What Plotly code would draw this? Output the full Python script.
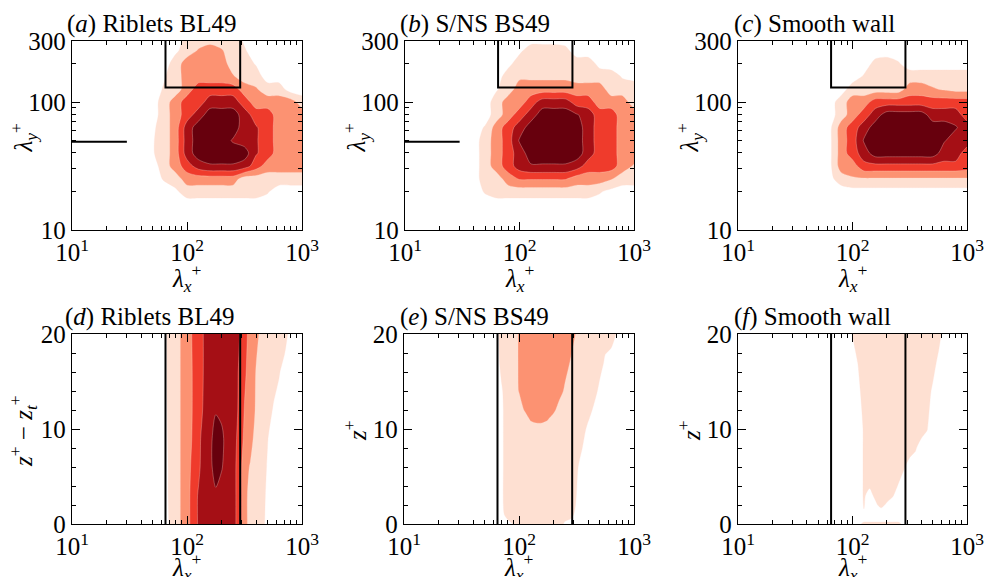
import plotly.graph_objects as go

W, H = 989, 577
FONT = "Liberation Serif, Times New Roman, serif"
FS = 25

# Filled-contour band colours (levels 1..5)
REDS = ["#fee0d2", "#fc9272", "#ef3b2c", "#a50f15", "#67000d"]

# ---------------- top row: spectra in (lambda_x+, lambda_y+) -------------
TOP_LOG_LX = [1.0, 1.1, 1.2, 1.3, 1.4, 1.5, 1.6, 1.7, 1.8, 1.9, 2.0,
              2.1, 2.2, 2.3, 2.4, 2.5, 2.6, 2.7, 2.8, 2.9, 3.0]
TOP_LOG_LY = [1.0, 1.1, 1.2, 1.3, 1.4, 1.5, 1.6, 1.7, 1.8, 1.9, 2.0,
              2.1, 2.2, 2.3, 2.4, 2.5]

# band index, columns lambda_x 10^1.7 .. 10^3 (left part is 0)
A_ROWS = [
    [0]*14, [0]*14, [0]*14,
    [0, 0, 0.3, 1, 1, 1, 1, 1, 1, 1, 0.6, 0, 0, 0],
    [0, 0.6, 1, 2, 2, 2, 2, 2, 1, 1, 1, 1, 1, 1],
    [0, 1, 2, 3, 4, 4.4, 4.4, 4.4, 4, 3, 2, 2, 2, 2],
    [0.4, 1, 2, 4, 5, 5, 5, 5, 5, 3.6, 3, 2, 2, 2],
    [0.4, 1, 2, 4, 5, 5, 5, 4.4, 4, 3.6, 3, 2, 2, 2],
    [0.3, 1, 2, 4, 5, 5, 5, 5, 4, 3.6, 3, 2, 2, 2],
    [0, 1, 2, 3, 4, 5, 5, 5, 4, 3, 3, 2, 2, 2],
    [0, 1, 2, 3, 3, 4, 4, 4, 3, 2, 2, 2, 2, 1],
    [0, 0.6, 1, 2, 3, 3, 3, 3, 2, 1.6, 1, 1, 0, 0],
    [0, 0.4, 1, 2, 2, 2, 2, 1.6, 1, 1, 0, 0, 0, 0],
    [0, 0, 1, 2, 2, 2, 2, 1, 1, 0.4, 0, 0, 0, 0],
    [0, 0, 0.3, 1, 1.6, 2, 1.6, 1, 0.6, 0, 0, 0, 0, 0],
    [0, 0, 0, 0.8, 1, 1, 1, 1, 0.3, 0, 0, 0, 0, 0],
]
B_ROWS = [
    [0]*14, [0]*14, [0]*14,
    [0.6, 1, 1, 1, 1, 1, 1, 1, 1, 1, 0.6, 0.2, 0, 0],
    [1, 1, 2, 2.6, 2.6, 2.6, 2.6, 2.6, 2, 2, 2, 1.6, 1, 1],
    [1, 2, 3, 4, 4.4, 4.4, 4.4, 4.4, 4, 3, 3, 3, 2, 1.4],
    [1, 2, 3, 4, 5, 5, 5, 5, 5, 4, 3, 3, 2, 2],
    [1, 2, 3, 4.6, 5, 5, 5, 5, 5, 4, 3, 3, 2, 2],
    [0.6, 2, 3, 4, 5, 5, 5, 5, 5, 4, 3, 3, 2, 2],
    [0, 1, 2, 3, 4, 5, 5, 5, 4.6, 4, 3, 3, 2, 2],
    [0, 1, 2, 2, 3, 4, 4, 4, 3, 3, 2, 2, 2, 1],
    [0, 0.4, 1, 2, 2, 2, 2, 2, 2, 2, 2, 1, 1, 1],
    [0, 0, 1, 1.3, 1.3, 1.3, 1.3, 1.3, 1, 1, 1, 1, 0.4, 0.2],
    [0, 0, 0.2, 1, 1, 1, 1, 1, 1, 1, 0.2, 0, 0, 0],
    [0, 0, 0, 0.3, 1, 1, 1, 0.8, 0, 0, 0, 0, 0, 0],
    [0]*14,
]
C_ROWS = [
    [0]*14, [0]*14, [0]*14,
    [0, 0, 0, 0.1, 0.1, 0.1, 0.1, 0.1, 0.1, 0.1, 0.1, 0.1, 0.1, 0.1],
    [0, 0.2, 1, 1.4, 1.4, 1.4, 1.4, 1.4, 1.4, 1.4, 1.4, 1.4, 1.4, 1.4],
    [0, 0.2, 2, 2, 3.2, 3.2, 3.2, 3.2, 3.2, 3.2, 3.2, 3.2, 3.2, 3],
    [0, 0.2, 2, 3, 4, 5, 5, 5, 5, 5, 5, 4, 4, 3],
    [0, 0.2, 2, 3, 4.6, 5, 5, 5, 5, 5, 5, 4.6, 4, 4],
    [0, 0.2, 2, 3, 4, 5, 5, 5, 5, 5, 5, 5, 4.6, 4],
    [0, 0, 1, 2, 3, 4, 5, 5, 5, 5, 4, 4, 4, 3],
    [0, 0, 1, 2, 2, 3, 3, 3, 3, 3, 3, 3, 3, 3],
    [0, 0, 0, 1, 1, 1, 1, 1, 2, 2, 1.6, 1.4, 1.2, 1.2],
    [0, 0, 0, 0, 0.6, 1, 1, 1, 1, 1, 1, 1, 1, 1],
    [0, 0, 0, 0, 0, 0.8, 1, 0.6, 0, 0, 0, 0, 0, 0],
    [0]*14, [0]*14,
]

# ---------------- bottom row: (lambda_x+, z+) ------------------------------
BOT_LOG_LX = [1.0, 1.75, 1.80, 1.85, 1.90, 1.95, 2.00, 2.05, 2.10, 2.15,
              2.20, 2.25, 2.30, 2.35, 2.40, 2.45, 2.50, 2.55, 2.60, 2.65,
              2.70, 2.75, 2.80, 2.85, 2.90, 2.95, 3.00]

D_Z = [0, 3, 6, 9, 12, 16, 20]
D_ROWS = [
    [0, 0, 0, 0.6, 1, 1.6, 2, 3, 3.6, 4, 4, 4, 4, 4, 4, 3, 2, 1, 1, 1, 0, 0, 0, 0, 0, 0, 0],
    [0, 0, 0, 0.7, 1, 1.6, 2, 3, 3.6, 4, 4, 4.3, 4, 4, 4, 3, 2, 1, 1, 1, 0.2, 0, 0, 0, 0, 0, 0],
    [0, 0, 0, 0.7, 1, 1.6, 2, 2.8, 3.3, 4, 4.2, 5, 4.6, 4, 4, 3, 2, 1.4, 1, 1, 0.4, 0, 0, 0, 0, 0, 0],
    [0, 0, 0, 0.8, 1, 1.6, 2, 2.6, 3.2, 4, 4.2, 5, 4.8, 4, 4, 3.2, 2.3, 2, 1, 1, 0.55, 0, 0, 0, 0, 0, 0],
    [0, 0, 0, 0.9, 1, 1.6, 2, 2.55, 3, 3.7, 4, 4.4, 4.2, 4, 4, 3.4, 2.45, 2, 1.4, 1, 1, 0.4, 0, 0, 0, 0, 0],
    [0, 0, 0, 1, 1, 1.6, 2, 2.55, 3, 3.6, 4, 4, 4, 4, 4, 3.45, 2.7, 2, 1.45, 1, 1, 1, 0.6, 0, 0, 0, 0],
    [0, 0, 0, 1, 1, 1.6, 2, 2.6, 3, 3.6, 4, 4, 4, 4, 4, 3.6, 3, 2, 2, 1, 1, 1, 1, 1, 0, 0, 0],
]

E_Z = [0, 1, 2, 6, 10, 11, 12, 14, 17, 20]
E_ROWS = [
    [0, 0, 0, 0, 0, 0.55, 1, 1, 1, 1, 1, 1, 1, 1, 0.3, 0, 0, 0, 0, 0, 0, 0, 0, 0, 0, 0, 0],
    [0, 0, 0, 0.1, 1, 1, 1, 1, 1, 1, 1, 1, 1, 1, 1, 0.9, 0.1, 0, 0, 0, 0, 0, 0, 0, 0, 0, 0],
    [0, 0, 0, 0.3, 1, 1, 1, 1, 1, 1, 1, 1, 1, 1, 1, 1, 0.4, 0, 0, 0, 0, 0, 0, 0, 0, 0, 0],
    [0, 0, 0, 0.3, 1, 1, 1, 1, 1, 1, 1, 1, 1, 1, 1, 1, 0.7, 0, 0, 0, 0, 0, 0, 0, 0, 0, 0],
    [0, 0, 0, 0.3, 1, 1, 1, 1, 1, 1, 1, 1, 1, 1, 1, 1, 1, 1, 0.2, 0, 0, 0, 0, 0, 0, 0, 0],
    [0, 0, 0, 0.3, 1, 1, 1, 1, 1.6, 1.8, 1.8, 1.55, 1, 1, 1, 1, 1, 1, 0.6, 0, 0, 0, 0, 0, 0, 0, 0],
    [0, 0, 0, 0.3, 1, 1, 1, 1.6, 2, 2, 2, 2, 1.8, 1, 1, 1, 1, 1, 1, 0.3, 0, 0, 0, 0, 0, 0, 0],
    [0, 0, 0, 0.4, 1, 1, 1.55, 2, 2, 2, 2, 2, 2, 2, 1.3, 1, 1, 1, 1, 1, 0.2, 0, 0, 0, 0, 0, 0],
    [0, 0, 0, 0.8, 1, 1, 1.6, 2, 2, 2, 2, 2, 2, 2, 2, 1.4, 1, 1, 1, 1, 1, 0.3, 0, 0, 0, 0, 0],
    [0, 0, 0, 1, 1, 1, 1.6, 2, 2, 2, 2, 2, 2, 2, 2, 2, 1.4, 1, 1, 1, 1, 1, 1, 0.4, 0, 0, 0],
]

F_Z = [0, 0.4, 1.2, 2, 3, 4.5, 6, 8, 10, 14, 17, 20]
F_ROWS = [
    [0, 0, 0, 0, 0, 0, 0, 0, 1, 1, 1, 1, 1, 1, 1, 0, 0, 0, 0, 0, 0, 0, 0, 0, 0, 0, 0],
    [0]*27,
    [0, 0, 0, 0, 0, 0, 0, 0, 0.45, 0, 0, 0, 0, 0, 0, 0, 0, 0, 0, 0, 0, 0, 0, 0, 0, 0, 0],
    [0, 0, 0, 0, 0, 0, 0, 0, 0.55, 0, 0.3, 0.8, 0.3, 0, 0, 0, 0, 0, 0, 0, 0, 0, 0, 0, 0, 0, 0],
    [0, 0, 0, 0, 0, 0, 0, 0, 0.6, 0.2, 0.7, 1, 1, 0.6, 0, 0, 0, 0, 0, 0, 0, 0, 0, 0, 0, 0, 0],
    [0, 0, 0, 0, 0, 0, 0, 0, 0.6, 0.8, 1, 1, 1, 1, 0.6, 0, 0, 0, 0, 0, 0, 0, 0, 0, 0, 0, 0],
    [0, 0, 0, 0, 0, 0, 0, 0, 0.6, 1, 1, 1, 1, 1, 1, 0.6, 0, 0, 0, 0, 0, 0, 0, 0, 0, 0, 0],
    [0, 0, 0, 0, 0, 0, 0, 0, 0.6, 1, 1, 1, 1, 1, 1, 1, 1, 0.6, 0, 0, 0, 0, 0, 0, 0, 0, 0],
    [0, 0, 0, 0, 0, 0, 0, 0, 0.6, 1, 1, 1, 1, 1, 1, 1, 1, 1, 1, 0.55, 0, 0, 0, 0, 0, 0, 0],
    [0, 0, 0, 0, 0, 0, 0, 0.2, 1, 1, 1, 1, 1, 1, 1, 1, 1, 1, 1, 1, 0.3, 0, 0, 0, 0, 0, 0],
    [0, 0, 0, 0, 0, 0, 0, 0.55, 1, 1, 1, 1, 1, 1, 1, 1, 1, 1, 1, 1, 1, 0.2, 0, 0, 0, 0, 0],
    [0, 0, 0, 0, 0, 0, 0.55, 1, 1, 1, 1, 1, 1, 1, 1, 1, 1, 1, 1, 1, 1, 1, 0, 0, 0, 0, 0],
]

# reference lines
BOX_X = [65, 290]          # lambda_x+ bounds of the box / vertical lines
BOX_Y = [130, 300]         # lambda_y+ bounds of the box
SPAN_X = [10, 30]          # horizontal marker at lambda_y+ = 49
SPAN_Y = 49

TITLES = ["(<i>a</i>) Riblets BL49", "(<i>b</i>) S/NS BS49", "(<i>c</i>) Smooth wall",
          "(<i>d</i>) Riblets BL49", "(<i>e</i>) S/NS BS49", "(<i>f</i>) Smooth wall"]
YTITLES = ["<i>λ</i><sub><i>y</i></sub><sup>+</sup>"] * 3 + \
          ["<i>z</i><sup>+</sup> − <i>z</i><sub><i>t</i></sub><sup>+</sup>",
           "<i>z</i><sup>+</sup>", "<i>z</i><sup>+</sup>"]
XTITLE = "<i>λ</i><sub><i>x</i></sub><sup>+</sup>"

X_TICKS = [10, 100, 1000]
X_TICKTEXT = ["10<sup>1</sup>", "10<sup>2</sup>", "10<sup>3</sup>"]
X_MINOR = [20, 30, 40, 50, 60, 70, 80, 90, 200, 300, 400, 500, 600, 700, 800, 900]
Y_TICKS_TOP = [10, 100, 300]
Y_MINOR_TOP = [20, 30, 40, 50, 60, 70, 80, 90, 200]


def pad(rows, n):
    return [[0] * (n - len(r)) + list(r) for r in rows]


top_x = [10 ** v for v in TOP_LOG_LX]
top_y = [10 ** v for v in TOP_LOG_LY]
bot_x = [10 ** v for v in BOT_LOG_LX]

panels = [
    (top_x, top_y, pad(A_ROWS, 21)),
    (top_x, top_y, pad(B_ROWS, 21)),
    (top_x, top_y, pad(C_ROWS, 21)),
    (bot_x, D_Z, D_ROWS),
    (bot_x, E_Z, E_ROWS),
    (bot_x, F_Z, F_ROWS),
]

CS = [[0.0, "#ffffff"], [0.1, "#ffffff"],
      [0.1, REDS[0]], [0.3, REDS[0]],
      [0.3, REDS[1]], [0.5, REDS[1]],
      [0.5, REDS[2]], [0.7, REDS[2]],
      [0.7, REDS[3]], [0.9, REDS[3]],
      [0.9, REDS[4]], [1.0, REDS[4]]]

# pixel layout
XPIX = [(72, 302), (405, 634), (738, 967), (72, 302), (404, 634), (738, 967)]
YPIX = [(41, 230)] * 3 + [(334, 524)] * 3
TITLE_X = [65, 398, 732, 63, 398, 732]
XTITLE_GAP = [28, 28, 28, 23, 23, 23]

fig = go.Figure()
for i, (xv, yv, z) in enumerate(panels):
    n = i + 1
    fig.add_trace(go.Contour(
        x=xv, y=yv, z=z, xaxis=f"x{n}", yaxis=f"y{n}",
        autocontour=False,
        contours=dict(start=0.5, end=4.5, size=1, coloring="fill", showlines=True),
        line=dict(width=0.6, color="rgba(255,220,210,0.5)", smoothing=0.8),
        colorscale=CS, zmin=0, zmax=5, showscale=False, hoverinfo="skip"))
    if i < 3:
        fig.add_trace(go.Scatter(
            x=[BOX_X[0], BOX_X[0], BOX_X[1], BOX_X[1]],
            y=[BOX_Y[1], BOX_Y[0], BOX_Y[0], BOX_Y[1]],
            mode="lines", line=dict(color="black", width=2),
            xaxis=f"x{n}", yaxis=f"y{n}", showlegend=False, hoverinfo="skip"))
        if i < 2:
            fig.add_trace(go.Scatter(
                x=SPAN_X, y=[SPAN_Y, SPAN_Y], mode="lines",
                line=dict(color="black", width=2),
                xaxis=f"x{n}", yaxis=f"y{n}", showlegend=False, hoverinfo="skip"))
    else:
        for xb in BOX_X:
            fig.add_trace(go.Scatter(
                x=[xb, xb], y=[0, 20], mode="lines",
                line=dict(color="black", width=2),
                xaxis=f"x{n}", yaxis=f"y{n}", showlegend=False, hoverinfo="skip"))

axis_common = dict(showline=True, linecolor="black", linewidth=1.3, mirror="allticks",
                   ticks="inside", ticklen=8, tickwidth=1.2, tickcolor="black",
                   showgrid=False, zeroline=False, automargin=False,
                   tickfont=dict(family=FONT, size=FS, color="black"))

layout = dict(width=W, height=H, margin=dict(l=0, r=0, t=0, b=0, autoexpand=False),
              paper_bgcolor="white", plot_bgcolor="white", showlegend=False,
              font=dict(family=FONT, size=FS, color="black"))
annotations = []
tfont = dict(family=FONT, size=FS, color="black")
for i in range(6):
    n = i + 1
    x0, x1 = XPIX[i]
    y0, y1 = YPIX[i]
    xa = dict(axis_common)
    xa.update(domain=[x0 / W, x1 / W], anchor=f"y{n}", type="log", range=[1, 3],
              tickmode="array", tickvals=X_TICKS, ticktext=X_TICKTEXT,
              minor=dict(tickvals=X_MINOR, ticklen=4, tickwidth=1, ticks="inside",
                         tickcolor="black"))
    ya = dict(axis_common)
    if i < 3:
        ya.update(type="log", range=[1, 2.4771], tickmode="array",
                  tickvals=Y_TICKS_TOP, ticktext=["10", "100", "300"],
                  minor=dict(tickvals=Y_MINOR_TOP, ticklen=4, tickwidth=1,
                             ticks="inside", tickcolor="black"))
    else:
        ya.update(type="linear", range=[0, 20], tickmode="array",
                  tickvals=[0, 10, 20],
                  minor=dict(dtick=2, tick0=0, ticklen=4, tickwidth=1,
                             ticks="inside", tickcolor="black"))
    ya.update(domain=[1 - y1 / H, 1 - y0 / H], anchor=f"x{n}")
    layout[f"xaxis{n}"] = xa
    layout[f"yaxis{n}"] = ya
    # panel title
    annotations.append(dict(text=TITLES[i], xref="paper", yref="paper",
                            x=TITLE_X[i] / W, y=1 - (y0 - 1) / H,
                            xanchor="left", yanchor="bottom", showarrow=False,
                            font=tfont))
    # x-axis title
    annotations.append(dict(text=XTITLE, xref="paper", yref="paper",
                            x=(x0 + x1) / 2 / W, y=1 - (y1 + XTITLE_GAP[i]) / H,
                            xanchor="center", yanchor="top", showarrow=False,
                            font=tfont))
    # y-axis title
    annotations.append(dict(text=YTITLES[i], xref="paper", yref="paper",
                            x=(x0 - 49) / W, y=1 - ((y0 + y1) / 2 + 2) / H,
                            xanchor="center", yanchor="middle", textangle=-90,
                            showarrow=False, font=tfont))
layout["annotations"] = annotations
fig.update_layout(**layout)
fig.write_html("out.html")
